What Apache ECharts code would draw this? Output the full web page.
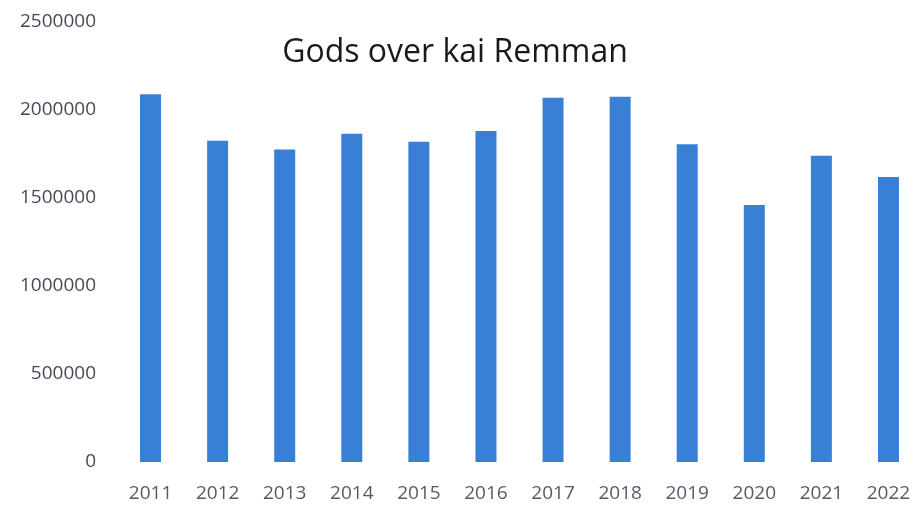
<!DOCTYPE html>
<html>
<head>
<meta charset="utf-8">
<script src="https://cdn.jsdelivr.net/npm/echarts@6/dist/echarts.min.js"></script>
<style>
  html, body { margin: 0; padding: 0; background: #fff; }
  #main { width: 922px; height: 506px; }
</style>
</head>
<body>
<div id="main"></div>
<script>
// years and tonnage
var years = ['2011', '2012', '2013', '2014', '2015', '2016', '2017', '2018', '2019', '2020', '2021', '2022'];
var gods = [2090000, 1825000, 1775000, 1865000, 1820000, 1880000, 2070000, 2075000, 1805000, 1460000, 1740000, 1620000];

var myChart = echarts.init(document.getElementById('main'));

var option = {
    backgroundColor: '#ffffff',
    animation: false,
    title: {
        text: 'Gods over kai Remman',
        left: 450,
        textAlign: 'center',
        top: 32,
        textStyle: {
            fontFamily: 'Open Sans',
            fontSize: 32,
            fontWeight: 'normal',
            color: '#1a1a1a'
        }
    },
    grid: {
        left: 117,
        top: 22,
        width: 807,
        height: 440
    },
    xAxis: {
        type: 'category',
        data: years,
        axisLine: { show: false },
        axisTick: { show: false },
        axisLabel: {
            margin: 22,
            fontFamily: 'Open Sans',
            fontSize: 19,
            color: '#5a5868'
        }
    },
    yAxis: {
        type: 'value',
        min: 0,
        max: 2500000,
        interval: 500000,
        splitLine: { show: false },
        axisLine: { show: false },
        axisTick: { show: false },
        axisLabel: {
            margin: 21,
            fontFamily: 'Open Sans',
            fontSize: 19,
            color: '#4a4856',
            formatter: function (val) {
                return String(val);
            }
        }
    },
    series: [{
        name: 'Gods',
        type: 'bar',
        data: gods,
        barWidth: 21,
        itemStyle: { color: '#3a7fd6' }
    }]
};

myChart.setOption(option);
</script>
</body>
</html>
